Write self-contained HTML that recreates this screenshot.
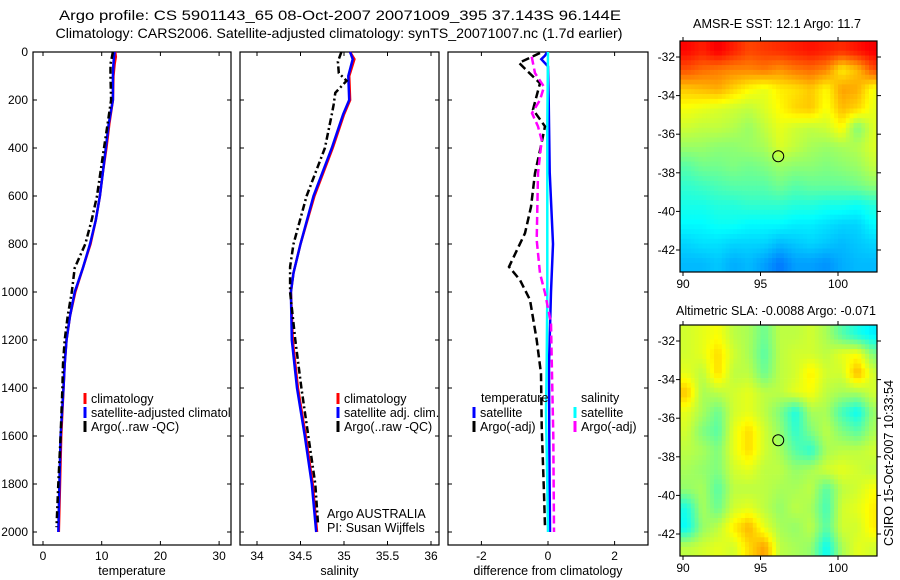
<!DOCTYPE html>
<html><head><meta charset="utf-8"><style>
html,body{margin:0;padding:0;background:#fff;}
svg{display:block;font-family:"Liberation Sans",sans-serif;}
</style></head><body>
<svg id="fig" width="900" height="580" viewBox="0 0 900 580">
<defs><clipPath id="p1clip"><rect x="33" y="52" width="198" height="493"/></clipPath></defs>
<text x="340" y="20" font-size="14" text-anchor="middle" textLength="562" lengthAdjust="spacingAndGlyphs">Argo profile: CS 5901143_65 08-Oct-2007 20071009_395 37.143S 96.144E</text>
<text x="339" y="38" font-size="14" text-anchor="middle" textLength="567" lengthAdjust="spacingAndGlyphs">Climatology: CARS2006. Satellite-adjusted climatology: synTS_20071007.nc (1.7d earlier)</text>
<text x="777" y="28" font-size="12.5" text-anchor="middle" textLength="168" lengthAdjust="spacingAndGlyphs">AMSR-E SST: 12.1 Argo: 11.7</text>
<text x="776" y="315" font-size="12.5" text-anchor="middle" textLength="200" lengthAdjust="spacingAndGlyphs">Altimetric SLA: -0.0088 Argo: -0.071</text>
<text transform="translate(893,463) rotate(-90)" font-size="12.5" text-anchor="middle" textLength="166" lengthAdjust="spacingAndGlyphs">CSIRO 15-Oct-2007 10:33:54</text>
</svg>
<script>
// ---- profile data ----
const tempClimDepth = [0,20,50,100,200,300,400,500,600,700,800,900,1000,1100,1200,1300,1400,1600,1800,2000];
const tempClim      = [12.3,12.4,12.2,12.0,11.9,11.3,10.8,10.2,9.7,9.0,8.1,6.8,5.5,4.6,4.0,3.7,3.5,3.1,2.9,2.7];
const tempSatDepth  = [0,20,50,100,200,300,400,500,600,700,800,900,1000,1100,1200,1300,1400,1600,1800,2000];
const tempSat       = [12.2,12.1,12.0,11.9,11.9,11.2,10.7,10.2,9.7,9.0,8.0,6.8,5.4,4.6,4.0,3.7,3.5,3.0,2.8,2.6];
const tempArgoDepth = [0,50,100,200,300,400,500,600,700,800,900,1000,1100,1200,1300,1400,1600,1800,1980];
const tempArgo      = [11.9,11.5,11.5,11.6,11.0,10.4,9.8,9.2,8.3,7.2,5.4,4.9,4.2,3.7,3.4,3.3,3.0,2.6,2.3];

const salClimDepth  = [0,30,100,200,260,400,600,800,920,1000,1200,1400,1600,1800,2000];
const salClim       = [35.07,35.12,35.06,35.07,35.0,34.87,34.66,34.5,34.42,34.39,34.41,34.47,34.56,34.64,34.69];
const salSatDepth   = [0,30,100,200,260,400,600,800,920,1000,1200,1400,1600,1800,2000];
const salSat        = [35.07,35.1,35.05,35.06,34.99,34.86,34.65,34.5,34.42,34.39,34.4,34.46,34.55,34.63,34.68];
const salArgoDepth  = [0,40,88,120,170,220,260,400,600,800,895,1000,1200,1400,1600,1800,1960];
const salArgo       = [34.97,34.93,34.94,35.03,34.9,34.88,34.86,34.78,34.57,34.42,34.38,34.38,34.44,34.51,34.59,34.67,34.7];

const dTempSatDepth = [0,15,30,60,200,500,800,1000,1300,1600,2000];
const dTempSat      = [-0.02,-0.09,-0.2,0.0,0.02,0.05,0.15,0.09,0.03,0.04,0.06];
const dSalSatDepth  = [0,300,600,1000,1300,1500,1800,2000];
const dSalSat       = [0.0,-0.02,-0.02,-0.02,-0.04,-0.06,-0.02,0.0];
const dTempArgoDepth= [4,45,70,130,240,310,410,505,645,755,895,950,1033,1200,1340,1560,1840,1980];
const dTempArgo     = [-0.24,-0.87,-0.69,-0.24,-0.45,-0.09,-0.24,-0.39,-0.51,-0.69,-1.17,-0.84,-0.54,-0.34,-0.21,-0.19,-0.12,-0.09];
const dSalArgoDepth = [20,88,145,200,255,310,367,505,783,922,1004,1130,1340,1600,2000];
const dSalArgo      = [-0.49,-0.39,-0.12,-0.24,-0.48,-0.3,-0.19,-0.3,-0.34,-0.24,-0.09,0.09,0.12,0.16,0.18];

// ---- tick labels ----
const depthTicks = [0,200,400,600,800,1000,1200,1400,1600,1800,2000];
const tempTicks = [0,10,20,30];
const salTicks = [34,34.5,35,35.5,36];
const salTickLabels = ["34","34.5","35","35.5","36"];
const diffTicks = [-2,0,2];
const lonTicks = [90,95,100];
const latTicks = [-32,-34,-36,-38,-40,-42];

// ---- map grids (rows north->south, cols west->east, 1 deg) ----
const sstGrid = [
[15.2,15.0,15.3,15.0,14.7,14.8,14.9,15.0,15.1,15.0,14.9,15.1,15.3],
[14.6,14.4,14.3,14.2,14.2,14.3,14.1,14.3,14.4,14.2,13.4,13.8,14.6],
[13.7,13.8,13.9,13.6,13.3,13.1,13.4,13.5,13.7,13.3,14.0,13.9,13.2],
[13.2,13.1,13.0,12.9,12.8,13.0,13.3,13.6,13.7,13.2,13.8,13.6,13.1],
[12.9,12.8,12.8,12.7,12.5,12.8,13.1,12.9,12.8,12.9,13.3,12.3,13.0],
[12.5,12.5,12.4,12.4,12.5,12.6,13.0,12.8,12.6,12.5,12.6,12.7,13.0],
[12.0,12.2,12.2,12.3,12.2,12.3,12.5,12.4,12.4,12.3,12.4,12.5,12.8],
[11.7,11.8,11.9,12.0,12.0,12.0,12.2,12.0,12.1,12.1,12.1,12.2,12.4],
[11.5,11.5,11.6,11.6,11.7,11.7,11.7,11.6,11.6,11.5,11.5,11.4,11.6],
[11.3,11.3,11.4,11.4,11.3,11.3,11.3,11.2,11.2,11.1,11.0,11.0,11.3],
[11.0,11.1,11.1,11.0,11.0,11.0,10.8,10.9,11.0,10.9,10.8,10.9,11.0],
[10.8,10.8,10.9,10.7,10.8,10.6,10.3,10.6,10.6,10.5,10.7,10.8,10.8]];
const slaGrid = [
[0.04,0.05,0.06,0.03,0.02,-0.01,0.03,0.03,0.04,0.02,-0.02,-0.05,-0.07],
[0.04,0.05,0.08,0.04,0.02,-0.02,0.03,0.04,0.04,0.03,0.05,0.06,0.0],
[0.05,0.03,0.08,0.03,0.03,-0.01,0.03,0.04,0.07,0.04,0.04,0.10,0.04],
[0.09,0.02,0.03,0.04,0.05,0.03,0.03,0.05,0.06,0.03,0.02,0.02,0.04],
[0.05,0.02,-0.01,0.04,0.05,0.03,0.0,-0.05,0.02,0.02,-0.03,-0.06,0.01],
[0.04,0.0,-0.02,0.05,0.08,0.04,0.01,-0.04,0.0,0.03,0.0,-0.02,0.02],
[0.03,0.02,0.0,0.05,0.08,0.04,0.02,-0.02,-0.04,0.02,0.03,0.03,0.04],
[0.02,0.01,0.0,0.04,0.05,0.03,0.03,0.01,0.02,0.04,0.05,0.04,0.03],
[0.01,0.02,-0.02,0.03,0.03,0.03,0.02,0.02,0.03,-0.02,0.03,0.04,0.06],
[-0.05,0.02,-0.01,0.04,0.05,0.03,0.01,0.03,0.02,-0.03,0.04,0.05,0.07],
[-0.06,0.01,0.03,0.07,0.10,0.05,0.02,0.01,0.03,-0.02,0.04,0.04,0.07],
[0.03,0.04,0.05,0.04,0.08,0.11,0.03,0.02,0.01,-0.06,0.02,0.05,0.04]];
const profileLon = 96.144;
const profileLat = -37.143;

const NS = "http://www.w3.org/2000/svg";
const svg = document.getElementById('fig');
function mk(tag, attrs, parent){
  const e = document.createElementNS(NS, tag);
  for (const k in attrs) e.setAttribute(k, attrs[k]);
  (parent||svg).appendChild(e);
  return e;
}
const yDepth = d => 52 + d*0.24;
const PBOT = 545;

function panel(name, x0, x1, xScale, ticks, labels, xlabel, showDepth){
  const g = mk('g', {});
  
  
  const r = mk('rect', {x:x0, y:52, width:x1-x0, height:PBOT-52, fill:'none', stroke:'#000', 'stroke-width':1.2}, g);
  
  
  depthTicks.forEach(d => {
    const y = yDepth(d);
    mk('line', {x1:x0, x2:x0+4, y1:y, y2:y, stroke:'#000'}, g);
    mk('line', {x1:x1-4, x2:x1, y1:y, y2:y, stroke:'#000'}, g);
    if (showDepth){
      const t = mk('text', {x:x0-5, y:y+4, 'font-size':12, 'text-anchor':'end'}, g);
      t.textContent = d;
      
      
    }
  });
  ticks.forEach((v,i) => {
    const x = xScale(v);
    mk('line', {x1:x, x2:x, y1:52, y2:56, stroke:'#000'}, g);
    mk('line', {x1:x, x2:x, y1:PBOT-4, y2:PBOT, stroke:'#000'}, g);
    const t = mk('text', {x:x, y:PBOT+15, 'font-size':12, 'text-anchor':'middle'}, g);
    t.textContent = labels[i];
    
    
  });
  const xl = mk('text', {x:(x0+x1)/2, y:575, 'font-size':12.5, 'text-anchor':'middle'}, g);
  xl.textContent = xlabel;
  
  
  return g;
}
function line(g, xs, ds, xScale, color, w, dash, name){
  const pts = xs.map((v,i) => xScale(v).toFixed(1)+','+yDepth(ds[i]).toFixed(1)).join(' ');
  const p = mk('polyline', {points:pts, fill:'none', stroke:color, 'stroke-width':w}, g);
  if (dash) p.setAttribute('stroke-dasharray', dash);
  
  
}
function legend(g, x, y, color, dash, label, name){
  const l = mk('line', {x1:x, x2:x, y1:y-11, y2:y, stroke:color, 'stroke-width':3}, g);
  
  
  const t = mk('text', {x:x+6, y:y-1, 'font-size':12.5}, g);
  t.textContent = label;
  
  
}
function txt(g, x, y, s, name, anchor){
  const t = mk('text', {x:x, y:y, 'font-size':12.5, 'text-anchor':anchor||'start'}, g);
  t.textContent = s;
  
  
}

// Panel 1: temperature
const xT = v => 43 + v*5.87;
const g1 = panel('temperature-panel', 33, 231, xT, tempTicks, tempTicks.map(String), 'temperature', true);
line(g1, tempClim, tempClimDepth, xT, '#f00', 2.5, null, 'temperature-climatology-line');
line(g1, tempSat, tempSatDepth, xT, '#00f', 2.5, null, 'temperature-satellite-line');
line(g1, tempArgo, tempArgoDepth, xT, '#000', 2.5, '7,3,2,3', 'temperature-argo-line');
const g1leg = mk('g', {'clip-path':'url(#p1clip)'}, g1);


legend(g1leg, 85, 404, '#f00', null, 'climatology', 'legend-climatology');
legend(g1leg, 85, 418, '#00f', null, 'satellite-adjusted climatology', 'legend-satellite-adjusted');
legend(g1leg, 85, 432, '#000', null, 'Argo(..raw -QC)', 'legend-argo');

// Panel 2: salinity
const xS = v => 257 + (v-34)*87;
const g2 = panel('salinity-panel', 240, 439, xS, salTicks, salTickLabels, 'salinity', false);
line(g2, salClim, salClimDepth, xS, '#f00', 2.5, null, 'salinity-climatology-line');
line(g2, salSat, salSatDepth, xS, '#00f', 2.5, null, 'salinity-satellite-line');
line(g2, salArgo, salArgoDepth, xS, '#000', 2.5, '7,3,2,3', 'salinity-argo-line');
legend(g2, 338, 404, '#f00', null, 'climatology', 'legend-climatology');
legend(g2, 338, 418, '#00f', null, 'satellite adj. clim.', 'legend-satellite-adjusted');
legend(g2, 338, 432, '#000', null, 'Argo(..raw -QC)', 'legend-argo');
txt(g2, 327, 518, 'Argo AUSTRALIA', 'argo-australia-label');
txt(g2, 327, 532, 'PI: Susan Wijffels', 'pi-label');

// Panel 3: difference
const xD = v => 548 + v*33.3;
const g3 = panel('difference-panel', 448, 648, xD, diffTicks, diffTicks.map(String), 'difference from climatology', false);
line(g3, dTempSat, dTempSatDepth, xD, '#00f', 2.5, null, 'temperature-satellite-diff-line');
line(g3, dSalSat, dSalSatDepth, xD, '#0ff', 2.5, null, 'salinity-satellite-diff-line');
line(g3, dTempArgo, dTempArgoDepth, xD, '#000', 2.5, '8,4', 'temperature-argo-diff-line');
line(g3, dSalArgo, dSalArgoDepth, xD, '#f0f', 2.5, '8,4', 'salinity-argo-diff-line');
txt(g3, 481, 402, 'temperature', 'legend-temperature-header');
legend(g3, 474, 418, '#00f', null, 'satellite', 'legend-temperature-satellite');
legend(g3, 474, 432, '#000', null, 'Argo(-adj)', 'legend-temperature-argo');
txt(g3, 581, 402, 'salinity', 'legend-salinity-header');
legend(g3, 575, 418, '#0ff', null, 'satellite', 'legend-salinity-satellite');
legend(g3, 575, 432, '#f0f', null, 'Argo(-adj)', 'legend-salinity-argo');

// Maps
function jet(n){
  n = Math.max(0, Math.min(1, n));
  const c = v => Math.round(255*Math.max(0, Math.min(1, v)));
  return 'rgb('+c(1.5-Math.abs(4*n-3))+','+c(1.5-Math.abs(4*n-2))+','+c(1.5-Math.abs(4*n-1))+')';
}
function sample(grid, fr, fc){
  const R = grid.length, C = grid[0].length;
  fr = Math.max(0, Math.min(R-1, fr)); fc = Math.max(0, Math.min(C-1, fc));
  const r0 = Math.floor(fr), c0 = Math.floor(fc);
  const r1 = Math.min(R-1, r0+1), c1 = Math.min(C-1, c0+1);
  const a = fr-r0, b = fc-c0;
  return (grid[r0][c0]*(1-b)+grid[r0][c1]*b)*(1-a) + (grid[r1][c0]*(1-b)+grid[r1][c1]*b)*a;
}
function map(name, top, bottom, grid, norm){
  const x0 = 680, x1 = 877;
  const lonX = lon => 683 + (lon-90)*15.5;
  const lat32 = top + 16;
  const latY = lat => lat32 + (-32 - lat)*19.3;
  const g = mk('g', {});
  
  
  const clip = mk('clipPath', {id:name+'-clip'}, g);
  mk('rect', {x:x0, y:top, width:x1-x0, height:bottom-top}, clip);
  const cells = mk('g', {'clip-path':'url(#'+name+'-clip)'}, g);
  const latTop = -32 + (lat32-top)/19.3;
  const SUB = 4;
  const R = grid.length, C = grid[0].length;
  for (let j = 0; j < R*SUB; j++){
    for (let i = 0; i < C*SUB; i++){
      const fr = (j+0.5)/SUB - 0.5, fc = (i+0.5)/SUB - 0.5;
      const v = sample(grid, fr, fc);
      const lonW = 89.75 + i/SUB;
      const latN = latTop - j/SUB;
      const r = mk('rect', {x:lonX(lonW).toFixed(1), y:latY(latN).toFixed(1), width:4.3, height:5.2, fill:jet(norm(v))}, cells);
      
      
    }
  }
  const fr = mk('rect', {x:x0, y:top, width:x1-x0, height:bottom-top, fill:'none', stroke:'#000', 'stroke-width':1.2}, g);
  
  
  lonTicks.forEach(l => {
    const x = lonX(l);
    mk('line', {x1:x, x2:x, y1:top-4, y2:top, stroke:'#000'}, g);
    mk('line', {x1:x, x2:x, y1:bottom, y2:bottom+4, stroke:'#000'}, g);
    const t = mk('text', {x:x, y:bottom+16, 'font-size':12, 'text-anchor':'middle'}, g);
    t.textContent = l;
    
    
  });
  latTicks.forEach(l => {
    const y = latY(l);
    mk('line', {x1:x0-4, x2:x0, y1:y, y2:y, stroke:'#000'}, g);
    mk('line', {x1:x1, x2:x1+4, y1:y, y2:y, stroke:'#000'}, g);
    const t = mk('text', {x:x0-5, y:y+4, 'font-size':12, 'text-anchor':'end'}, g);
    t.textContent = l;
    
    
  });
  const c = mk('circle', {cx:lonX(profileLon), cy:latY(profileLat), r:5.5, fill:'none', stroke:'#000', 'stroke-width':1}, g);
  
  
}
map('sst-map', 41, 272, sstGrid, v => (v-8.4)/7.8);
map('sla-map', 325, 556, slaGrid, v => (v+0.25)/0.5);
</script>
</body></html>
